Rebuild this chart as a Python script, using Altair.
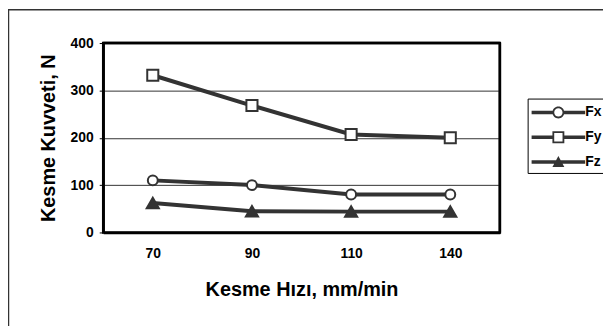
import altair as alt
import pandas as pd

speeds = ["70", "90", "110", "140"]
series_names = ["Fx", "Fy", "Fz"]
fx = [110, 100, 80, 80]
fy = [332, 268, 207, 200]
fz = [62, 45, 44, 44]

rows = []
for name, vals in zip(series_names, [fx, fy, fz]):
    for s, v in zip(speeds, vals):
        rows.append({"speed": s, "force": v, "series": name})
df = pd.DataFrame(rows)

FONT = "Liberation Sans"
DARK = "#333333"
W, HT = 400, 191


def f(v):
    return f"{v:.3f}"


def rect(x0, x1, h):
    return f"M{f(x0)},{f(-h)}L{f(x1)},{f(-h)}L{f(x1)},{f(h)}L{f(x0)},{f(h)}Z"


M = 1.7
L0, L1, H = -1.0, 4.4, 0.18
ro, ri = 0.6, 0.42

circle_path = (
    rect(L0, M - 0.55, H) + rect(M + 0.55, L1, H)
    + f"M{f(M + ro)},0A{ro},{ro} 0 1,1 {f(M - ro)},0A{ro},{ro} 0 1,1 {f(M + ro)},0Z"
    + f"M{f(M + ri)},0A{ri},{ri} 0 1,0 {f(M - ri)},0A{ri},{ri} 0 1,0 {f(M + ri)},0Z"
)
square_path = (
    rect(L0, M - 0.55, H) + rect(M + 0.55, L1, H)
    + f"M{f(M - ro)},{f(-ro)}L{f(M + ro)},{f(-ro)}L{f(M + ro)},{f(ro)}L{f(M - ro)},{f(ro)}Z"
    + f"M{f(M - ri)},{f(-ri)}L{f(M - ri)},{f(ri)}L{f(M + ri)},{f(ri)}L{f(M + ri)},{f(-ri)}Z"
)
tri_path = rect(L0, L1, H) + f"M{f(M)},-0.6L{f(M + 0.6)},0.5L{f(M - 0.6)},0.5Z"

x_enc = alt.X(
    "speed:N",
    sort=speeds,
    scale=alt.Scale(type="point", padding=0.5),
    axis=alt.Axis(
        title="Kesme Hızı, mm/min",
        labelAngle=0,
        ticks=False,
        domain=True,
        domainColor="black",
        domainWidth=2.5,
        grid=False,
        labelFont=FONT,
        labelFontSize=14,
        labelFontWeight="bold",
        labelColor="black",
        labelPadding=14,
        titleFont=FONT,
        titleFontSize=20,
        titleFontWeight="bold",
        titleColor="black",
        titlePadding=20,
    ),
)
y_enc = alt.Y(
    "force:Q",
    scale=alt.Scale(domain=[0, 400]),
    axis=alt.Axis(
        title="Kesme Kuvveti, N",
        values=[0, 100, 200, 300, 400],
        domain=True,
        domainColor="black",
        domainWidth=2.5,
        ticks=True,
        tickSize=4,
        tickColor="black",
        tickWidth=1,
        grid=True,
        gridColor="#333333",
        gridWidth=1,
        labelFont=FONT,
        labelFontSize=14,
        labelFontWeight="bold",
        labelColor="black",
        labelPadding=6,
        titleFont=FONT,
        titleFontSize=20,
        titleFontWeight="bold",
        titleColor="black",
        titlePadding=12,
    ),
)

base = alt.Chart(df)

lines = base.mark_line(color=DARK, strokeWidth=4).encode(
    x=x_enc, y=y_enc, detail="series:N"
)

points = base.mark_point(stroke=DARK, strokeWidth=2, opacity=1).encode(
    x=x_enc,
    y=y_enc,
    shape=alt.Shape(
        "series:N",
        scale=alt.Scale(domain=series_names, range=["circle", "square", "triangle-up"]),
        legend=None,
    ),
    fill=alt.Fill(
        "series:N",
        scale=alt.Scale(domain=series_names, range=["white", "white", DARK]),
        legend=None,
    ),
    size=alt.Size(
        "series:N",
        scale=alt.Scale(domain=series_names, range=[100, 150, 170]),
        legend=None,
    ),
)

legend_layer = base.mark_point(filled=True, color=DARK, opacity=0).encode(
    x=x_enc,
    y=y_enc,
    shape=alt.Shape(
        "series:N",
        scale=alt.Scale(domain=series_names, range=[circle_path, square_path, tri_path]),
        legend=alt.Legend(
            title=None,
            orient="none",
            legendX=428,
            legendY=56,
            symbolSize=400,
            symbolOpacity=1,
            symbolStrokeWidth=0,
            symbolFillColor=DARK,
            labelFont=FONT,
            labelFontSize=14,
            labelFontWeight="bold",
            labelColor="black",
            labelOffset=34,
            rowPadding=8,
            padding=4,
            strokeColor="black",
            fillColor="white",
        ),
    ),
)

one = pd.DataFrame({"k": [0]})
border = alt.Chart(one).mark_rect(
    fill=None, stroke=DARK, strokeWidth=1.5
).encode(
    x=alt.value(-95.5), y=alt.value(-33.5), x2=alt.value(700), y2=alt.value(500)
)

edge_top = alt.Chart(one).mark_rule(color="black", strokeWidth=2.5).encode(
    x=alt.value(0), x2=alt.value(W), y=alt.value(0)
)
edge_right = alt.Chart(one).mark_rule(color="black", strokeWidth=2.5).encode(
    x=alt.value(W), y=alt.value(0), y2=alt.value(HT)
)

chart = (
    alt.layer(border, lines, points, edge_top, edge_right, legend_layer)
    .resolve_scale(shape="independent", fill="independent", size="independent")
    .properties(
        width=W,
        height=HT,
        autosize=alt.AutoSizeParams(type="none"),
        padding={"left": 96, "top": 34, "right": 104, "bottom": 93},
    )
    .configure(background="white")
    .configure_view(stroke="black", strokeWidth=2.5)
)

chart.save("out.html", embed_options={"renderer": "svg", "actions": False})
